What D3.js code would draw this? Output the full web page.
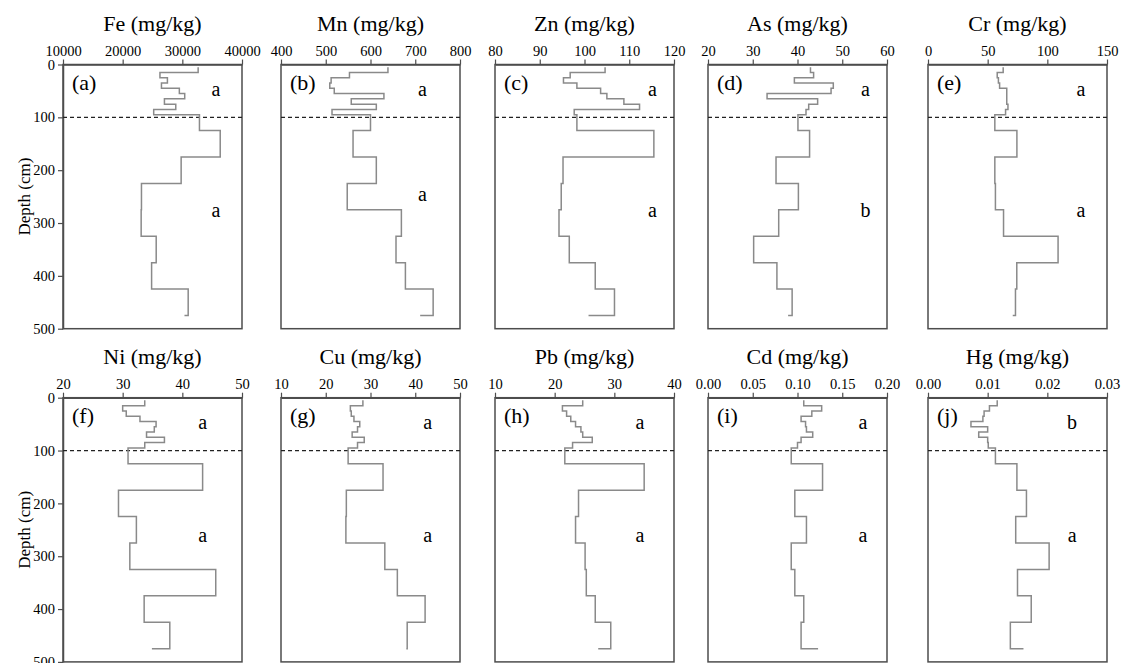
<!DOCTYPE html>
<html>
<head>
<meta charset="utf-8">
<script src="https://cdn.jsdelivr.net/npm/d3@7/dist/d3.min.js"></script>
<style>
  html, body { margin: 0; padding: 0; background: #fff; }
  svg { display: block; }
  svg text { font-family: "Times New Roman", Times, "Liberation Serif", Tinos, "Noto Serif", "DejaVu Serif", FreeSerif, serif; fill: #000; }
</style>
</head>
<body>
<svg id="chart" width="1121" height="663"></svg>
<script>
// ---------------- data ----------------
const elements = ["Fe", "Mn", "Zn", "As", "Cr", "Ni", "Cu", "Pb", "Cd", "Hg"];
const panelTags = ["(a)", "(b)", "(c)", "(d)", "(e)", "(f)", "(g)", "(h)", "(i)", "(j)"];
const upperLetters = ["a", "a", "a", "a", "a", "a", "a", "a", "a", "b"];
const lowerLetters = ["a", "a", "a", "b", "a", "a", "a", "a", "a", "a"];

// step boundaries of the profile (cm)
const depths = [5, 15, 25, 35, 45, 55, 65, 75, 85, 95, 125, 175, 225, 275, 325, 375, 425, 475];
const depthTicks = [0, 100, 200, 300, 400, 500];
const layerBoundary = 100;

const feValues = [32650, 26250, 27500, 26500, 29500, 30400, 27000, 28900, 25200, 32870, 36350, 29800, 23150, 23100, 25620, 24850, 30980, 30360];
const mnValues = [639, 553, 512, 509, 519, 630, 557, 613, 514, 600, 561, 613, 548, 669, 657, 678, 740, 711];
const znValues = [104.6, 96.8, 95.3, 98.3, 103.6, 105.0, 108.8, 112.3, 97.7, 98.3, 115.5, 95.2, 94.8, 94.3, 96.6, 102.4, 106.7, 100.9];
const asValues = [42.9, 43.6, 39.3, 48.0, 47.5, 33.2, 44.5, 42.5, 41.9, 40.1, 42.7, 35.2, 40.2, 35.8, 30.2, 35.4, 38.8, 37.9];
const crValues = [63, 58, 59, 60, 66, 66, 66, 67, 65, 56, 74.5, 56.0, 56.5, 63.3, 109, 74.4, 73.3, 71];
const niValues = [33.7, 30.0, 30.6, 32.9, 35.6, 35.3, 34.0, 37.0, 33.7, 30.9, 43.4, 29.3, 32.3, 31.2, 45.6, 33.6, 37.9, 34.9];
const cuValues = [28.3, 25.5, 25.7, 26.3, 27.6, 27.1, 25.9, 28.6, 27.1, 25.0, 32.8, 24.6, 24.5, 33.2, 36.0, 42.2, 38.2, 38.0];
const pbValues = [24.7, 21.3, 22.0, 22.7, 23.5, 24.4, 24.7, 26.3, 23.0, 21.7, 35.0, 24.0, 23.5, 25.1, 25.3, 26.8, 29.4, 27.3];
const cdValues = [0.107, 0.127, 0.116, 0.104, 0.109, 0.110, 0.117, 0.104, 0.100, 0.093, 0.128, 0.097, 0.110, 0.093, 0.097, 0.107, 0.104, 0.123];
const hgValues = [0.0116, 0.0103, 0.0094, 0.0092, 0.0072, 0.0100, 0.0085, 0.0100, 0.0101, 0.0113, 0.0149, 0.0165, 0.0147, 0.0203, 0.0150, 0.0173, 0.0138, 0.0160];

const feTicks = [10000, 20000, 30000, 40000];
const mnTicks = [400, 500, 600, 700, 800];
const znTicks = [80, 90, 100, 110, 120];
const asTicks = [20, 30, 40, 50, 60];
const crTicks = [0, 50, 100, 150];
const niTicks = [20, 30, 40, 50];
const cuTicks = [10, 20, 30, 40, 50];
const pbTicks = [10, 20, 30, 40];
const cdTicks = [0, 0.05, 0.10, 0.15, 0.20];
const hgTicks = [0, 0.01, 0.02, 0.03];

const allValues = [feValues, mnValues, znValues, asValues, crValues, niValues, cuValues, pbValues, cdValues, hgValues];
const allTicks = [feTicks, mnTicks, znTicks, asTicks, crTicks, niTicks, cuTicks, pbTicks, cdTicks, hgTicks];
const tickFormats = [d3.format("d"), d3.format("d"), d3.format("d"), d3.format("d"), d3.format("d"),
                     d3.format("d"), d3.format("d"), d3.format("d"), d3.format(".2f"), d3.format(".2f")];

// ---------------- layout ----------------
const FONT = "'Times New Roman', Times, 'Liberation Serif', Tinos, 'Noto Serif', 'DejaVu Serif', FreeSerif, serif";
const colLefts = [63, 281, 495, 708, 928];
const panelW = 179;
const rowTops = [64.5, 397.7];
const panelH = 264.2;
const letterXFrac = [0.855, 0.79, 0.88, 0.88, 0.855, 0.78, 0.82, 0.81, 0.865, 0.805];
const lowerLetterDy = [152.5, 136, 152.5, 152.5, 152.5, 144.5, 144.5, 144.5, 144.5, 144.5];

const svg = d3.select("#chart");
const frameColor = "#4d4d4d";
const lineColor = "#8a8a8a";

elements.forEach((el, i) => {
  const row = Math.floor(i / 5), col = i % 5;
  const left = colLefts[col], top = rowTops[row];
  const ticks = allTicks[i];
  const x = d3.scaleLinear().domain([ticks[0], ticks[ticks.length - 1]]).range([left, left + panelW]);
  const y = d3.scaleLinear().domain([0, 500]).range([top, top + panelH]);
  const g = svg.append("g");

  g.append("rect")
    .attr("x", left).attr("y", top).attr("width", panelW).attr("height", panelH)
    .attr("fill", "none").attr("stroke", frameColor).attr("stroke-width", 1.5);

  const xAxis = d3.axisTop(x).tickValues(ticks).tickFormat(tickFormats[i]).tickSizeOuter(0).tickSizeInner(5).tickPadding(4);
  const ax = g.append("g").attr("transform", `translate(0,${top})`).call(xAxis);
  ax.attr("font-family", null);
  ax.select(".domain").attr("stroke", frameColor).attr("stroke-width", 1.5);
  ax.selectAll(".tick line").attr("stroke", frameColor).attr("stroke-width", 1.2);
  ax.selectAll(".tick text").attr("font-size", 14.5).attr("fill", "#000");

  if (col === 0) {
    const yAxis = d3.axisLeft(y).tickValues(depthTicks).tickSizeOuter(0).tickSizeInner(5).tickPadding(3);
    const ay = g.append("g").attr("transform", `translate(${left},0)`).call(yAxis);
    ay.attr("font-family", null);
    ay.select(".domain").attr("stroke", frameColor).attr("stroke-width", 1.5);
    ay.selectAll(".tick line").attr("stroke", frameColor).attr("stroke-width", 1.2);
    ay.selectAll(".tick text").attr("font-size", 14.5).attr("fill", "#000");
    g.append("text")
      .attr("transform", `translate(24,${top + panelH / 2}) rotate(-90)`)
      .attr("text-anchor", "middle").attr("dominant-baseline", "central")
      .attr("font-size", 17).text("Depth (cm)");
  }

  g.append("text")
    .attr("x", left + panelW / 2).attr("y", top - 34)
    .attr("text-anchor", "middle").attr("font-size", 22)
    .text(`${el} (mg/kg)`);

  g.append("line")
    .attr("x1", left).attr("x2", left + panelW)
    .attr("y1", y(layerBoundary)).attr("y2", y(layerBoundary))
    .attr("stroke", "#222").attr("stroke-width", 1.3).attr("stroke-dasharray", "4,3");

  const pts = depths.map((d, k) => ({ d, v: allValues[i][k] }));
  const line = d3.line().x(p => x(p.v)).y(p => y(p.d)).curve(d3.curveStepBefore);
  g.append("path").datum(pts)
    .attr("d", line).attr("fill", "none")
    .attr("stroke", lineColor).attr("stroke-width", 1.5);

  g.append("text").attr("x", left + 9).attr("y", top + 25).attr("font-size", 22).text(panelTags[i]);

  g.append("text").attr("x", left + panelW * letterXFrac[i]).attr("y", top + 31)
    .attr("text-anchor", "middle").attr("font-size", 20).text(upperLetters[i]);
  g.append("text").attr("x", left + panelW * letterXFrac[i]).attr("y", top + lowerLetterDy[i])
    .attr("text-anchor", "middle").attr("font-size", 20).text(lowerLetters[i]);
});
</script>
</body>
</html>
